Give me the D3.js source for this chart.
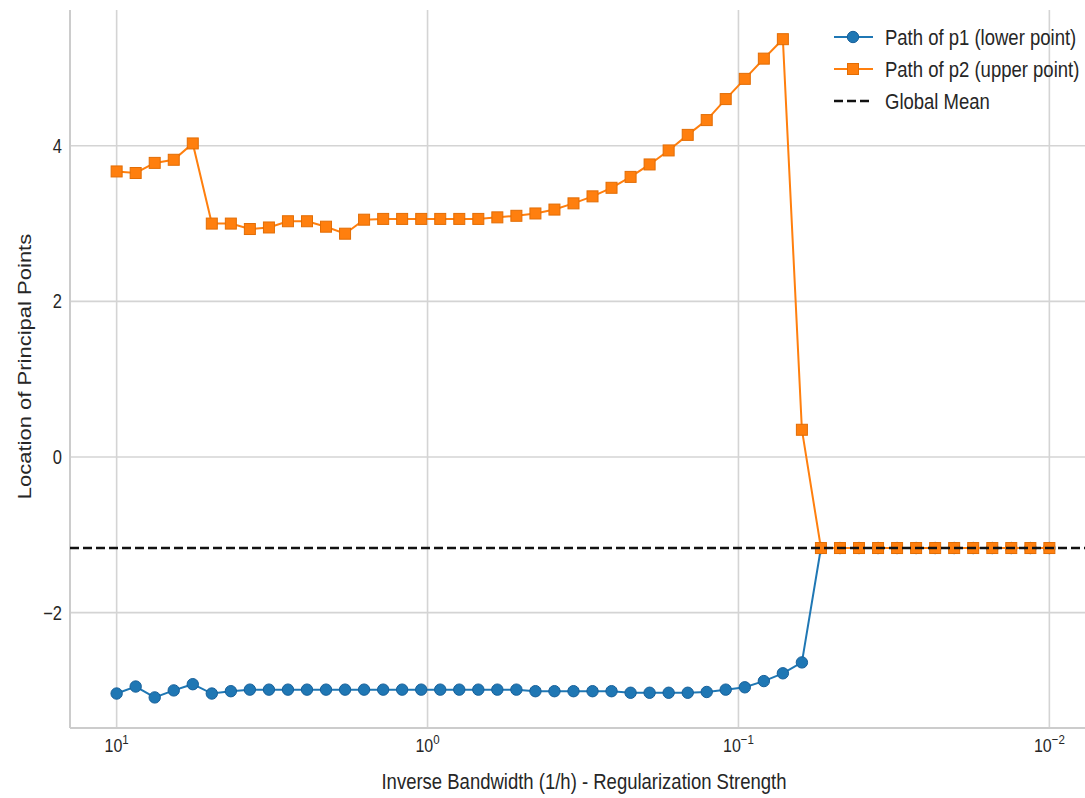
<!DOCTYPE html>
<html>
<head>
<meta charset="utf-8">
<script src="https://cdn.jsdelivr.net/npm/d3@7"></script>
<style>
  html, body { margin: 0; padding: 0; background: #fff; }
  text { font-family: "Liberation Sans", Arial, sans-serif; fill: #262626; }
</style>
</head>
<body>
<svg id="chart" width="1085" height="798"></svg>
<script>
// Inverse bandwidth values (log-spaced from 10 down to 0.01)
const bandwidth = [
  10, 8.685, 7.543, 6.551, 5.690, 4.942, 4.292, 3.728, 3.237, 2.812,
  2.442, 2.121, 1.842, 1.600, 1.389, 1.207, 1.048, 0.9103, 0.7906, 0.6866,
  0.5964, 0.5179, 0.4498, 0.3907, 0.3393, 0.2947, 0.2560, 0.2223, 0.1931, 0.1677,
  0.1456, 0.1265, 0.1099, 0.09541, 0.08286, 0.07197, 0.06251, 0.05429, 0.04715, 0.04095,
  0.03556, 0.03089, 0.02683, 0.02330, 0.02024, 0.01758, 0.01526, 0.01326, 0.01151, 0.01
];

// Lower principal point p1
const p1 = [
  -3.04, -2.95, -3.09, -3.00, -2.92, -3.04, -3.01, -2.99, -2.99, -2.99,
  -2.99, -2.99, -2.99, -2.99, -2.99, -2.99, -2.99, -2.99, -2.99, -2.99,
  -2.99, -2.99, -3.01, -3.01, -3.01, -3.01, -3.01, -3.03, -3.03, -3.03,
  -3.03, -3.02, -2.99, -2.96, -2.88, -2.78, -2.64, -1.17, -1.17, -1.17,
  -1.17, -1.17, -1.17, -1.17, -1.17, -1.17, -1.17, -1.17, -1.17, -1.17
];

// Upper principal point p2
const p2 = [
  3.67, 3.65, 3.78, 3.82, 4.03, 3.00, 3.00, 2.93, 2.95, 3.03,
  3.03, 2.96, 2.87, 3.05, 3.06, 3.06, 3.06, 3.06, 3.06, 3.06,
  3.08, 3.10, 3.13, 3.18, 3.26, 3.35, 3.46, 3.60, 3.76, 3.94,
  4.14, 4.33, 4.60, 4.86, 5.12, 5.37, 0.35, -1.17, -1.17, -1.17,
  -1.17, -1.17, -1.17, -1.17, -1.17, -1.17, -1.17, -1.17, -1.17, -1.17
];

const globalMean = -1.17;

const xTicks = [10, 1, 0.1, 0.01];
const xTickExponents = ["1", "0", "\u22121", "\u22122"];
const yTicks = [-2, 0, 2, 4];

const seriesNames = ["Path of p1 (lower point)", "Path of p2 (upper point)", "Global Mean"];
const blue = "#1f77b4", orange = "#ff7f0e";

const W = 1085, H = 798;
const plot = { left: 70, top: 10, bottom: 728, right: 1096 };
const TALL = 1.19; // glyphs are drawn slightly taller than wide

const svg = d3.select("#chart");
svg.append("rect").attr("width", W).attr("height", H).attr("fill", "#fff");

// log axis reversed, padded by 5% of the span on each side
const lo = Math.log10(d3.min(bandwidth)), hi = Math.log10(d3.max(bandwidth));
const pad = (hi - lo) * 0.05;
const x = d3.scaleLog()
  .domain([Math.pow(10, hi + pad), Math.pow(10, lo - pad)])
  .range([plot.left, plot.right]);

const y = d3.scaleLinear()
  .domain([-3.483, 5.745])
  .range([plot.bottom, plot.top]);

svg.append("clipPath").attr("id", "clip")
  .append("rect")
  .attr("x", plot.left).attr("y", plot.top)
  .attr("width", plot.right - plot.left).attr("height", plot.bottom - plot.top);

// grid
const grid = svg.append("g");
grid.selectAll("line.vx").data(xTicks).join("line")
  .attr("x1", d => x(d)).attr("x2", d => x(d))
  .attr("y1", plot.top).attr("y2", plot.bottom)
  .attr("stroke", "#d4d4d4").attr("stroke-width", 1.6);
grid.selectAll("line.hy").data(yTicks).join("line")
  .attr("x1", plot.left).attr("x2", W)
  .attr("y1", d => y(d)).attr("y2", d => y(d))
  .attr("stroke", "#d4d4d4").attr("stroke-width", 1.6);

// spines
svg.append("line").attr("x1", plot.left).attr("x2", plot.left)
  .attr("y1", plot.top).attr("y2", plot.bottom)
  .attr("stroke", "#cccccc").attr("stroke-width", 2);
svg.append("line").attr("x1", plot.left).attr("x2", W)
  .attr("y1", plot.bottom).attr("y2", plot.bottom)
  .attr("stroke", "#cccccc").attr("stroke-width", 2);

// x tick labels with superscript exponents
const xl = svg.append("g");
xTicks.forEach((t, i) => {
  const txt = xl.append("text")
    .attr("transform", `translate(${x(t)}, 752) scale(1, ${TALL})`)
    .attr("text-anchor", "middle")
    .attr("font-size", 16);
  txt.append("tspan").text("10");
  txt.append("tspan").attr("dy", -6.5).attr("font-size", 11.5).text(xTickExponents[i]);
});

// y tick labels
svg.append("g").selectAll("text").data(yTicks).join("text")
  .attr("transform", d => `translate(62, ${y(d)}) scale(1, ${TALL})`)
  .attr("dy", "0.36em")
  .attr("text-anchor", "end").attr("font-size", 16.5)
  .text(d => d < 0 ? "\u2212" + Math.abs(d) : String(d));

// axis titles
svg.append("text")
  .attr("transform", `translate(584, 789) scale(1, ${TALL})`)
  .attr("text-anchor", "middle").attr("font-size", 18.5)
  .text("Inverse Bandwidth (1/h) - Regularization Strength");
svg.append("text")
  .attr("transform", `translate(31, ${(233 + 500) / 2}) rotate(-90) scale(${TALL}, 1)`)
  .attr("text-anchor", "middle").attr("font-size", 18.5)
  .text("Location of Principal Points");

const body = svg.append("g").attr("clip-path", "url(#clip)");

const line1 = d3.line().x((d, i) => x(bandwidth[i])).y(d => y(d));

// p1 path
body.append("path").datum(p1)
  .attr("d", line1).attr("fill", "none")
  .attr("stroke", blue).attr("stroke-width", 2);
body.append("g").selectAll("circle").data(p1).join("circle")
  .attr("cx", (d, i) => x(bandwidth[i])).attr("cy", d => y(d))
  .attr("r", 5.7).attr("fill", blue)
  .attr("stroke", "#17609a").attr("stroke-width", 1);

// p2 path
body.append("path").datum(p2)
  .attr("d", line1).attr("fill", "none")
  .attr("stroke", orange).attr("stroke-width", 2);
const sq = 11;
body.append("g").selectAll("rect").data(p2).join("rect")
  .attr("x", (d, i) => x(bandwidth[i]) - sq / 2).attr("y", d => y(d) - sq / 2)
  .attr("width", sq).attr("height", sq).attr("fill", orange)
  .attr("stroke", "#e26d05").attr("stroke-width", 1);

// global mean
body.append("line")
  .attr("x1", plot.left).attr("x2", W)
  .attr("y1", y(globalMean)).attr("y2", y(globalMean))
  .attr("stroke", "#111").attr("stroke-width", 2.5)
  .attr("stroke-dasharray", "9,4");

// legend
const legend = svg.append("g");
const rowY = [37, 69, 101];
seriesNames.forEach((name, i) => {
  const g = legend.append("g").attr("transform", `translate(0, ${rowY[i]})`);
  if (i === 2) {
    g.append("line").attr("x1", 834).attr("x2", 873).attr("y1", 0).attr("y2", 0)
      .attr("stroke", "#111").attr("stroke-width", 2.5).attr("stroke-dasharray", "9,4");
  } else {
    const c = i === 0 ? blue : orange;
    g.append("line").attr("x1", 834).attr("x2", 873).attr("y1", 0).attr("y2", 0)
      .attr("stroke", c).attr("stroke-width", 2);
    if (i === 0) {
      g.append("circle").attr("cx", 853).attr("cy", 0).attr("r", 5.7)
        .attr("fill", blue).attr("stroke", "#17609a").attr("stroke-width", 1);
    } else {
      g.append("rect").attr("x", 853 - sq / 2).attr("y", -sq / 2)
        .attr("width", sq).attr("height", sq)
        .attr("fill", orange).attr("stroke", "#e26d05").attr("stroke-width", 1);
    }
  }
  g.append("text")
    .attr("transform", `translate(885, 0) scale(1, ${TALL})`)
    .attr("dy", "0.36em")
    .attr("font-size", 18.5).text(name);
});
</script>
</body>
</html>
